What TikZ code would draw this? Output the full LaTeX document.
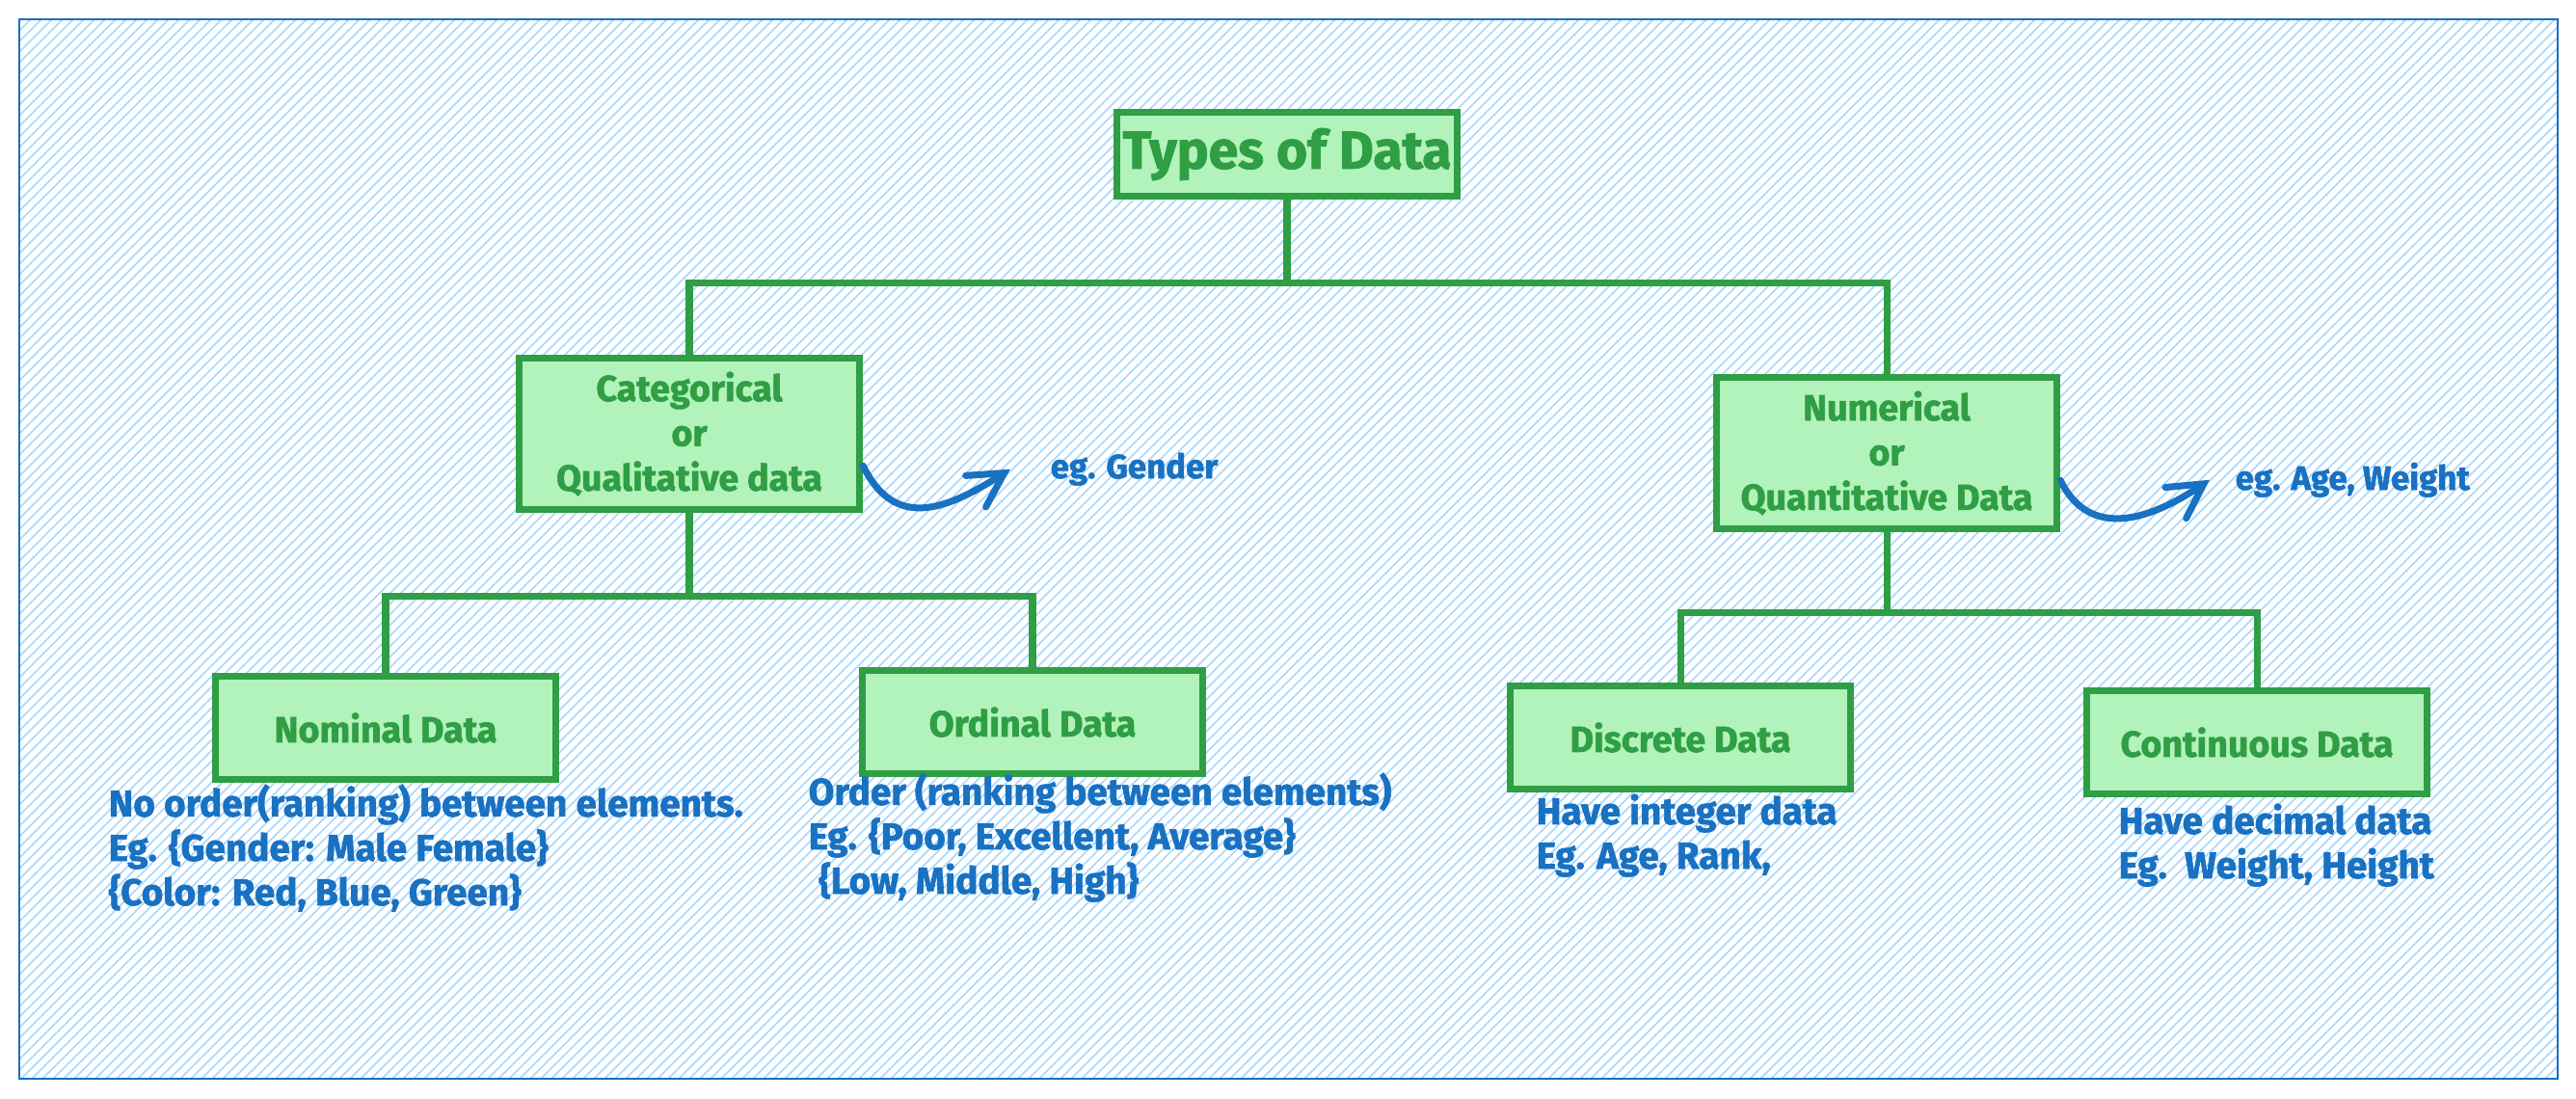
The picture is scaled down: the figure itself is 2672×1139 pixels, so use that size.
\documentclass[tikz,border=0pt]{standalone}
\usepackage{fontspec}
\setmainfont{Fira Sans}[BoldFeatures={FakeBold=1.6}]
\usetikzlibrary{arrows.meta}
\definecolor{boxline}{HTML}{2F9E44}
\definecolor{boxfill}{HTML}{B2F2BB}
\definecolor{notecol}{HTML}{1971C2}
\definecolor{hatchcol}{HTML}{A5D8FF}

\begin{document}
\begin{tikzpicture}[x=0.01cm, y=-0.01cm,
    box/.style={draw=boxline, fill=boxfill, line width=2pt, text=boxline, align=center,
      inner sep=0pt, minimum width=3.53cm, font=\bfseries\fontsize{10.7}{13.2}\selectfont},
    link/.style={draw=boxline, line width=2pt},
    note/.style={text=notecol, align=left, inner sep=0pt, anchor=base west,
      font=\bfseries\fontsize{11}{13.1}\selectfont},
    pointer/.style={draw=notecol, line width=2pt, line cap=round,
      -{Straight Barb[length=10pt, width=11pt, line cap=round]}}]
    \useasboundingbox (0, 0) rectangle (2672, 1139);
    % hatched background inside the frame
    \begin{scope}
      \clip (20, 20) rectangle (2653, 1119);
      \foreach \k in {-1100, -1089, ..., 2660}
        \draw[hatchcol, line width=0.45pt] (\k, 1119) -- ++(1099, -1099);
    \end{scope}
    \draw[notecol, line width=0.6pt] (20, 20) rectangle (2653, 1119);

    \node[box, minimum height=0.86cm, font=\bfseries\fontsize{15.7}{18}\selectfont] (types of data) at (1335, 160) {Types of Data};
    \node[box, minimum height=1.57cm] (categorical) at (715, 450) {Categorical \\ or \\ Qualitative data};
    \node[box, minimum height=1.56cm] (numerical) at (1957, 470) {Numerical \\ or \\ Quantitative Data};
    \draw[link] (types of data.south) -- ++(0, 87) -| (categorical.north);
    \draw[link] (types of data.south) -- ++(0, 87) -| (numerical.north);

    \node[note, font=\bfseries\fontsize{9.9}{12}\selectfont] (eg gender) at (1089, 496) {eg. Gender};
    \node[note, font=\bfseries\fontsize{9.9}{12}\selectfont] (eg age weight) at (2318, 508) {eg. Age, Weight};
    \draw[pointer] ([yshift=-9.4pt]categorical.east) .. controls +(32, 65) and +(-70, 45) .. ([xshift=-11.7pt]eg gender.west);
    \draw[pointer] ([yshift=-8pt]numerical.east) .. controls +(30, 62) and +(-62, 42) .. ([xshift=-7.4pt]eg age weight.west);

    \node[box, minimum height=1.06cm] (nominal) at (400, 755) {Nominal Data};
    \node[box, minimum height=1.06cm] (ordinal) at (1071, 749) {Ordinal Data};
    \draw[link] (categorical.south) -- ++(0, 86) -| (nominal.north);
    \draw[link] (categorical.south) -- ++(0, 86) -| (ordinal.north);
    \node[box, minimum height=1.06cm] (discrete) at (1743, 765) {Discrete Data};
    \node[box, minimum height=1.06cm] (continuous) at (2341, 770) {Continuous Data};
    \draw[link] (numerical.south) -- ++(0, 84) -| (discrete.north);
    \draw[link] (numerical.south) -- ++(0, 84) -| (continuous.north);

    % notes sit on the baseline of their last line
    \node[note] (nominal text) at (112, 939) {No order(ranking) between elements. \\ Eg. \{Gender: Male Female\} \\ \{Color: Red, Blue, Green\}};
    \node[note] (ordinal text) at (838, 927) {Order (ranking between elements) \\ Eg. \{Poor, Excellent, Average\} \\ \hspace*{3pt}\{Low, Middle, High\}};
    \node[note] (discrete text) at (1593, 901) {Have integer data \\ Eg. Age, Rank,};
    \node[note] (continuous text) at (2197, 911) {Have decimal data \\ Eg.\ \ Weight, Height};
  \end{tikzpicture}
\end{document}
